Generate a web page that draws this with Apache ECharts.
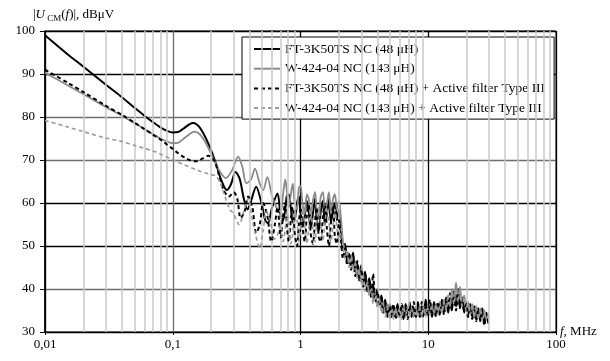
<!DOCTYPE html>
<html><head><meta charset="utf-8">
<script src="https://cdn.jsdelivr.net/npm/echarts@6/dist/echarts.min.js"></script>
<style>html,body{margin:0;padding:0;background:#fff}#c{width:610px;height:361px}</style>
</head><body><div id="c"></div>
<script>
const seriesNames = [
  'FT-3K50TS NC (48 μH)',
  'W-424-04 NC (143 μH)',
  'FT-3K50TS NC (48 μH) + Active filter Type III',
  'W-424-04 NC (143 μH) + Active filter Type III'
];
const xTickLabels = ['0,01', '0,1', '1', '10', '100'];
const minorGrid = [0.02,0.03,0.04,0.05,0.06,0.07,0.08,0.09,
  0.2,0.3,0.4,0.5,0.6,0.7,0.8,0.9, 2,3,4,5,6,7,8,9, 20,30,40,50,60,70,80,90];

// low-frequency (smooth) parts
const fLF_ft = [0.01,0.015,0.02,0.03,0.04,0.05,0.06,0.07,0.08,0.09,0.1,0.11,0.12,0.135,0.145,0.16,0.18,0.2,0.22,0.24,0.265,0.285,0.31,0.335,0.36,0.385,0.41,0.45,0.49,0.53,0.556,0.6,0.66];
const vLF_ft = [99,94.6,91.7,87.5,84.6,82.2,80.3,78.8,77.6,76.8,76.4,76.5,77.2,78.3,78.6,77.8,75.3,72.2,68.8,65.3,63,64.3,67.2,65.5,61,58.5,60.5,63.8,60.5,56,55.3,59,62.2];

const fLF_w = [0.01,0.015,0.02,0.03,0.04,0.05,0.06,0.07,0.08,0.09,0.1,0.11,0.12,0.135,0.148,0.165,0.185,0.21,0.235,0.26,0.29,0.325,0.35,0.376,0.41,0.44,0.48,0.51,0.55,0.6,0.66];
const vLF_w = [90.3,87.4,85.3,82.3,80.3,78.6,77.2,76,75,74.3,73.9,74,74.8,76,76.6,75.8,73.5,70,67.2,65.8,67.5,70.8,68.5,64.6,65.5,68,64.5,63,66,61.5,58.5];

const fLF_ftA = [0.01,0.015,0.02,0.03,0.04,0.05,0.06,0.07,0.08,0.09,0.1,0.11,0.125,0.14,0.155,0.17,0.19,0.21,0.23,0.25,0.275,0.3,0.32,0.34,0.365,0.39,0.42,0.45,0.48,0.51,0.55,0.59,0.63,0.66];
const vLF_ftA = [91,88,85.8,82.6,80.5,78.7,77.2,75.9,74.8,73.6,72.6,71.6,70.5,69.8,69.7,70.3,71,70,66.5,63,61.5,62.5,61,56.5,58,61.5,59,53,55,60,57,51,55,59];

const fLF_wA = [0.01,0.015,0.02,0.03,0.04,0.05,0.06,0.07,0.08,0.09,0.1,0.11,0.12,0.14,0.16,0.18,0.2,0.22,0.24,0.26,0.28,0.3,0.33,0.36,0.39,0.42,0.45,0.48,0.51,0.54,0.58,0.62,0.66];
const vLF_wA = [79.2,77.7,76.6,75.1,74.3,73.4,72.7,72.1,71.4,70.7,70.1,69.5,69,68.2,67.5,67,66.6,66.2,64,61,58.5,57.5,55,58,61,56,52,49.5,53.5,58,56,51.5,52.5];

// high-frequency (noisy) parts, shared frequency grid
const fHF = [0.70,0.73,0.76,0.78,0.81,0.84,0.87,0.90,0.94,0.97,
  1.0,1.04,1.08,1.12,1.16,1.2,1.25,1.3,1.34,1.39,
  1.44,1.5,1.55,1.61,1.67,1.73,1.8,1.86,1.93,2.0,
  2.08,2.15,2.23,2.32,2.4,2.49,2.58,2.68,2.78,2.88,
  2.99,3.1,3.2,3.33,3.45,3.58,3.7,3.85,4.0,4.14,
  4.3,4.45,4.6,4.8,5.0,5.15,5.35,5.55,5.75,5.95,
  6.2,6.4,6.65,6.9,7.15,7.4,7.7,8.0,8.3,8.6,
  8.9,9.2,9.55,9.9,10.3,10.7,11.1,11.5,11.9,12.3,
  12.8,13.3,13.8,14.3,14.8,15.3,15.9,16.5,17.1,17.7,
  18.4,19.1,19.8,20.5,21.3,22.1,22.9,23.7,24.6,25.5,
  26.5,27.5,28.5,29.5];
const vHF_ft = [57,56,58.5,61.5,62,59,55.5,56,60,61.5,
  58,54.5,57,60.5,58,54,57.5,61,56,53.5,
  58,60.5,55,57.5,61,55.5,58.5,60,56,58.5,
  53,49,50.5,46.5,48,45.5,48.5,44,46,42.5,
  45.5,41.5,44,40,42.5,39,41,37.5,40,36.5,
  38.5,35,37.5,34,36.5,33.5,36,34,36.5,33.5,
  35.5,33,36.5,34,37,33.5,35.5,34,37,33.5,
  36,34,37.5,34.5,36,33.5,37,34.5,36.5,34,
  37.5,35,38,34.5,37,35,39.5,36,40,35.5,
  38,34.5,37,34,36.5,33.5,36,33,35.5,32.5,
  35.5,32,34.5,32];
const vHF_w = [58,62,65.5,63,59,62,64.5,60,58.5,63.5,
  64,59.5,57.5,62,61,57,60.5,62.5,58,57,
  61.5,62.5,58,60,62.5,57.5,61,62,58.5,60.5,
  56,51,49,48.5,46.5,48,45,46.5,43.5,45,
  42,43.5,40.5,42,39,40.5,37.5,39,36.5,38,
  35,37,34.5,36.5,34,36,33.5,35.5,33.5,35.5,
  34,36,33.5,35.5,34,36,33.5,35.5,34,36,
  33.5,35.5,34,36,34,36.5,34,36,34.5,37,
  35,37.5,35.5,38.5,36,40,37,41.5,37.5,40.5,
  36.5,38.5,35,37,34.5,36.5,34,36,33.5,35.5,
  33,35,33,34.5];
const vHF_ftA = [52,57,60,55,51,56,59,53,50,55,
  59,54,51,57,59.5,53,50.5,56,59,52,
  51,57,59.5,54,50,55.5,59,52,50.5,56,
  51,47,49.5,45.5,48.5,44.5,47,43,46.5,42,
  44.5,40.5,43.5,39.5,42,38,43.5,37,39.5,36,
  38,34.5,36.5,33.5,36,34,36.5,33,35.5,34,
  36.5,33.5,35,33,36,34,37,33.5,35.5,34,
  37,33.5,36,34,37.5,34,36,33.5,37,35,
  36.5,34,37.5,35.5,39,36,38,35,39,36.5,
  37.5,35,36.5,33.5,35.5,33,35,32.5,35,33,
  34.5,31.5,34,33];
const vHF_wA = [55,51,54,58,55,50.5,53,58,56,51,
  53.5,58.5,55,50.5,54,58.5,54,51,55.5,59,
  55,51.5,55,59,55.5,51,55,58.5,54,51.5,
  54,50,47,49,45,47.5,44,46,42.5,44.5,
  41,43,39.5,41.5,38.5,40,36.5,38.5,35.5,37.5,
  34.5,36.5,33.5,35.5,33,35,33,35.5,33.5,35,
  33,35.5,34,36,33.5,35.5,34,36,33.5,35.5,
  34,36,33.5,35.5,34,36,34.5,36.5,34,36,
  34.5,37,35,38,36,39.5,36.5,40,37,39.5,
  36,38,35,36.5,34,36,33.5,35.5,33,35,
  32.5,34.5,33,34];

const FONT = '"Liberation Serif", "DejaVu Serif", serif';
function pairs(fa, va) { return fa.map((f, i) => [f, va[i]]); }
function build(fl, vl, vh) { return pairs(fl, vl).concat(pairs(fHF, vh)); }

const styles = [
  { color: '#000000', width: 2, type: 'solid' },
  { color: '#8a8a8a', width: 1.8, type: 'solid' },
  { color: '#000000', width: 2, type: [4, 3] },
  { color: '#9a9a9a', width: 1.6, type: [4, 3] }
];
const datasets = [
  build(fLF_ft, vLF_ft, vHF_ft),
  build(fLF_w, vLF_w, vHF_w),
  build(fLF_ftA, vLF_ftA, vHF_ftA),
  build(fLF_wA, vLF_wA, vHF_wA)
];

const chart = echarts.init(document.getElementById('c'), null, { renderer: 'canvas' });
const series = [{
  type: 'line', data: [], z: 1, silent: true,
  markLine: {
    silent: true, symbol: ['none', 'none'], animation: false,
    label: { show: false },
    lineStyle: { color: '#c9c9c9', width: 1.5, type: 'solid' },
    emphasis: { disabled: true },
    data: minorGrid.map(v => ({ xAxis: v }))
  }
}];
seriesNames.forEach((n, i) => {
  series.push({
    name: n, type: 'line', data: datasets[i], symbol: 'none', showSymbol: false,
    smooth: 0.3, z: 3 + i, silent: true,
    lineStyle: styles[i], itemStyle: { color: styles[i].color },
    emphasis: { disabled: true }
  });
});

chart.setOption({
  animation: false,
  backgroundColor: '#fff',
  title: {
    text: '|{i|U}{s| CM}({i|f})|, dBμV',
    left: 28, top: 2,
    textStyle: {
      fontFamily: FONT, fontSize: 13, fontWeight: 'normal', color: '#000', lineHeight: 16,
      rich: {
        i: { fontFamily: FONT, fontSize: 13, fontStyle: 'italic', color: '#000', lineHeight: 16 },
        s: { fontFamily: FONT, fontSize: 9, color: '#000', lineHeight: 10, verticalAlign: 'bottom' }
      }
    }
  },
  legend: {
    data: seriesNames, orient: 'vertical', left: 242, top: 37,
    itemWidth: 26, itemHeight: 14, itemGap: 5.7,
    padding: [5, 9, 4, 11],
    borderColor: '#000', borderWidth: 1, backgroundColor: '#fff',
    selectedMode: false,
    itemStyle: { opacity: 0, borderWidth: 0 },
    textStyle: { fontFamily: FONT, fontSize: 13.5, color: '#000' }
  },
  grid: { left: 45, right: 54, top: 31, bottom: 29, show: true, borderColor: '#000', borderWidth: 1, backgroundColor: 'transparent' },
  xAxis: {
    type: 'log', logBase: 10, min: 0.01, max: 100,
    name: '{i|f}, MHz', nameLocation: 'end', nameGap: 4, nameMoveOverlap: false,
    nameTextStyle: { fontFamily: FONT, fontSize: 13, color: '#000',
      rich: { i: { fontFamily: FONT, fontSize: 13, fontStyle: 'italic', color: '#000' } } },
    axisLine: { show: true, lineStyle: { color: '#000', width: 1.2 } },
    axisTick: { show: true, length: 3, lineStyle: { color: '#000' } },
    axisLabel: { fontFamily: FONT, fontSize: 13, color: '#000', margin: 6,
      formatter: (v, i) => xTickLabels[i] },
    splitLine: { show: true, lineStyle: { color: ['#000', '#6e6e6e', '#000', '#000', '#000'], width: 1.3 } }
  },
  yAxis: {
    type: 'value', min: 30, max: 100, interval: 10,
    axisLine: { show: true, lineStyle: { color: '#000', width: 1.5 } },
    axisTick: { show: true, length: 5, lineStyle: { color: '#000' } },
    axisLabel: { fontFamily: FONT, fontSize: 13, color: '#000', margin: 10 },
    splitLine: { show: true, lineStyle: { color: ['#000', '#6e6e6e', '#000', '#000', '#6e6e6e', '#6e6e6e', '#000', '#000'], width: 1.3 } }
  },
  series: series
});
</script></body></html>
